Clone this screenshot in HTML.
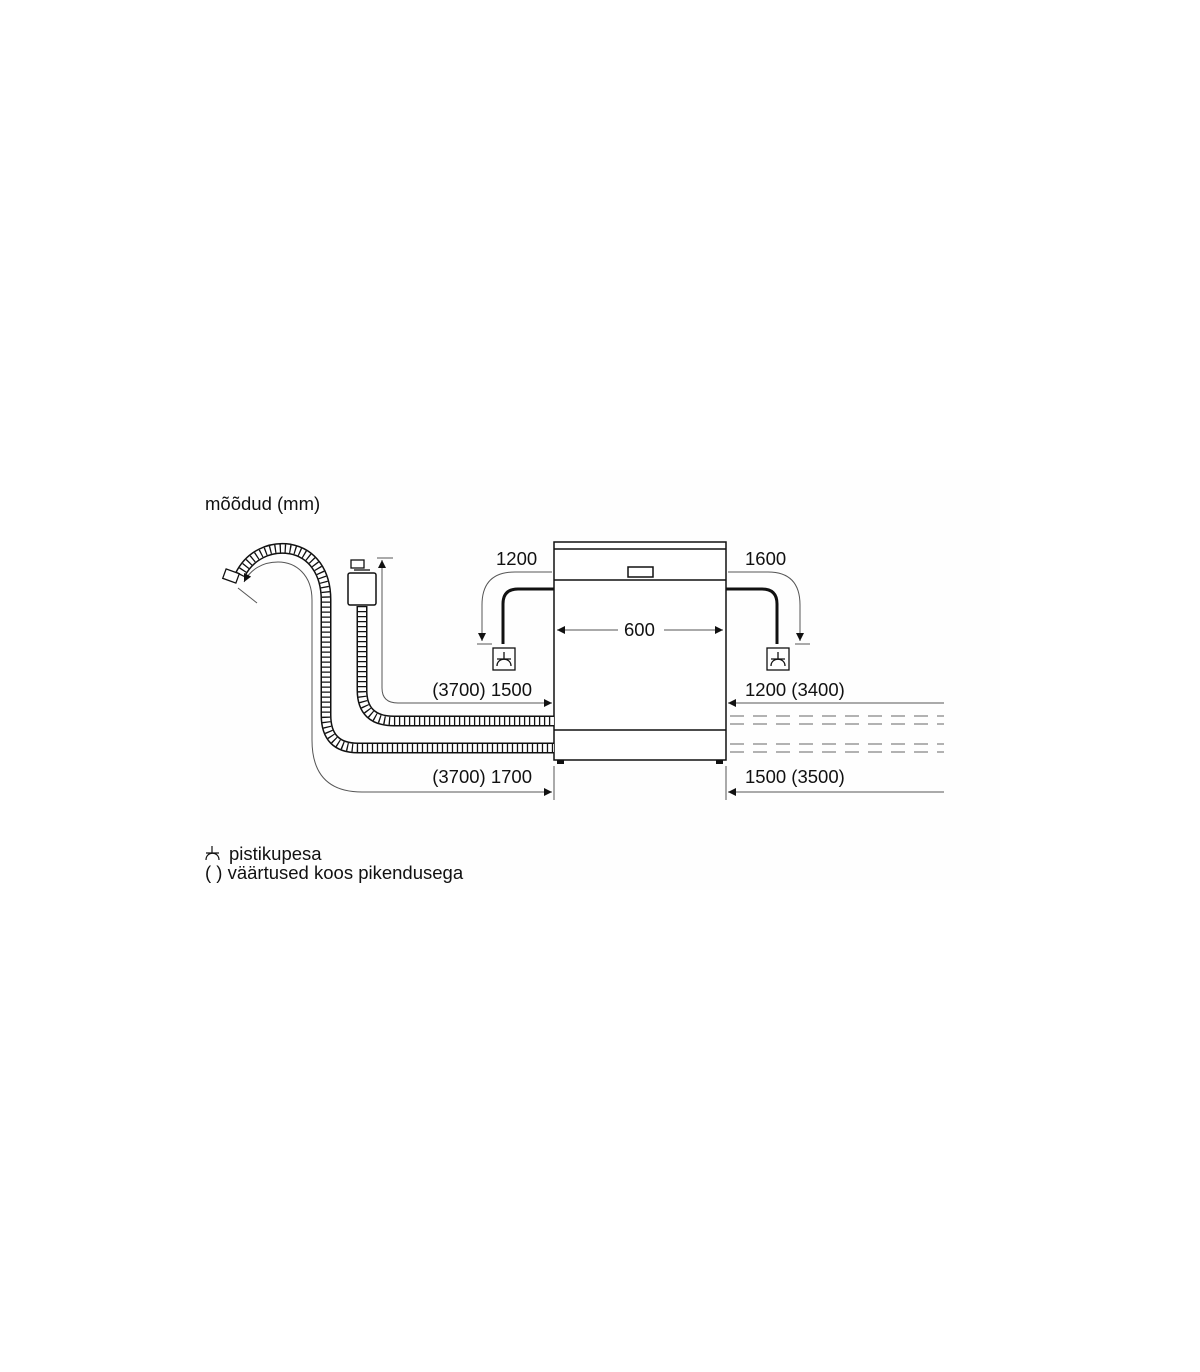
<!DOCTYPE html>
<html><head><meta charset="utf-8"><style>
html,body{margin:0;padding:0;background:#fff;}
svg{display:block;}
text{font-family:"Liberation Sans",Arial,sans-serif;font-size:18.5px;fill:#111;}
</style></head><body>
<svg width="1200" height="1372" viewBox="0 0 1200 1372" xmlns="http://www.w3.org/2000/svg">
<defs>
<marker id="ar" viewBox="0 0 10 10" refX="10" refY="5" markerWidth="11" markerHeight="8" orient="auto" markerUnits="userSpaceOnUse">
<path d="M0,0 L10,5 L0,10 z" fill="#111"/></marker>
</defs>
<rect x="200" y="470" width="800" height="420" fill="#fefefe"/>
<text x="205" y="510">mõõdud (mm)</text>

<!-- dishwasher (behind dim lines) -->
<g fill="none" stroke="#111" stroke-width="1.5">
<rect x="554" y="542" width="172" height="218" fill="#fff"/>
<line x1="554" y1="549" x2="726" y2="549"/>
<line x1="554" y1="580" x2="726" y2="580"/>
<line x1="554" y1="730" x2="726" y2="730"/>
<rect x="628" y="567" width="25" height="10"/>
</g>
<rect x="557" y="760" width="7" height="4" fill="#111"/>
<rect x="716" y="760" width="7" height="4" fill="#111"/>

<!-- hoses -->
<g fill="none">
<path d="M240,575 C250,555 270,546 290,549 C312,553 326,572 326,600 L326,715 Q326,748 358,748 L554,748" stroke="#111" stroke-width="11"/>
<path d="M240,575 C250,555 270,546 290,549 C312,553 326,572 326,600 L326,715 Q326,748 358,748 L554,748" stroke="#fff" stroke-width="8"/>
<path d="M240,575 C250,555 270,546 290,549 C312,553 326,572 326,600 L326,715 Q326,748 358,748 L554,748" stroke="#111" stroke-width="8" stroke-dasharray="1.3 3.7"/>
<path d="M362,606 L362,690 Q362,721 394,721 L554,721" stroke="#111" stroke-width="11"/>
<path d="M362,606 L362,690 Q362,721 394,721 L554,721" stroke="#fff" stroke-width="8"/>
<path d="M362,606 L362,690 Q362,721 394,721 L554,721" stroke="#111" stroke-width="8" stroke-dasharray="1.3 3.7"/>
</g>
<rect x="224" y="571" width="14" height="10" fill="#fff" stroke="#111" stroke-width="1.3" transform="rotate(20 231 576)"/>
<rect x="351" y="560" width="13" height="8" fill="#fff" stroke="#111" stroke-width="1.3"/>
<rect x="348" y="573" width="28" height="32" rx="2" fill="#fff" stroke="#111" stroke-width="1.5"/>
<line x1="354" y1="570" x2="370" y2="570" stroke="#111" stroke-width="1.3"/>

<!-- thin dim lines -->
<g fill="none" stroke="#555" stroke-width="1">
<path d="M312,740 L312,600 C312,575 296,562 278,562 C262,562 250,570 244,582" marker-end="url(#ar)"/>
<path d="M312,740 Q312,792 362,792 L552,792" marker-end="url(#ar)"/>
<line x1="238" y1="588" x2="257" y2="603"/>
<path d="M382,600 L382,560" marker-end="url(#ar)"/>
<path d="M382,600 L382,688 Q382,703 398,703 L552,703" marker-end="url(#ar)"/>
<line x1="377" y1="558" x2="393" y2="558"/>
<path d="M552,572 L515,572 Q482,572 482,605 L482,641" marker-end="url(#ar)"/>
<line x1="477" y1="644" x2="492" y2="644"/>
<path d="M728,572 L768,572 Q800,572 800,605 L800,641" marker-end="url(#ar)"/>
<line x1="795" y1="644" x2="810" y2="644"/>
<path d="M944,703 L728,703" marker-end="url(#ar)"/>
<path d="M944,792 L728,792" marker-end="url(#ar)"/>
<line x1="554" y1="766" x2="554" y2="800"/>
<line x1="726" y1="766" x2="726" y2="800"/>
<path d="M618,630 L557,630" marker-end="url(#ar)"/>
<path d="M664,630 L723,630" marker-end="url(#ar)"/>
<g stroke-dasharray="14 9" stroke="#666">
<line x1="730" y1="716" x2="944" y2="716"/>
<line x1="730" y1="724" x2="944" y2="724"/>
<line x1="730" y1="744" x2="944" y2="744"/>
<line x1="730" y1="752" x2="944" y2="752"/>
</g>
</g>

<!-- cords -->
<g fill="none" stroke="#111" stroke-width="3">
<path d="M554,589 L518,589 Q503,589 503,604 L503,644"/>
<path d="M726,589 L762,589 Q777,589 777,604 L777,644"/>
</g>
<g fill="none" stroke="#111" stroke-width="1.3">
<rect x="493" y="648" width="22" height="22"/>
<rect x="767" y="648" width="22" height="22"/>
<path d="M504,652 L504,659 M497,666 C497,657 511,657 511,666 M497,659 L511,659"/>
<path d="M778,652 L778,659 M771,666 C771,657 785,657 785,666 M771,659 L785,659"/>
</g>

<text x="496" y="565">1200</text>
<text x="745" y="565">1600</text>
<text x="624" y="636">600</text>
<text x="532" y="696" text-anchor="end">(3700) 1500</text>
<text x="532" y="783" text-anchor="end">(3700) 1700</text>
<text x="745" y="696">1200 (3400)</text>
<text x="745" y="783">1500 (3500)</text>

<g fill="none" stroke="#111" stroke-width="1.2">
<path d="M212,846 L212,853 M206,860 C206,851 219,851 219,860 M206,853 L219,853"/>
</g>
<text x="229" y="860">pistikupesa</text>
<text x="205" y="879">( ) väärtused koos pikendusega</text>
</svg>
</body></html>
